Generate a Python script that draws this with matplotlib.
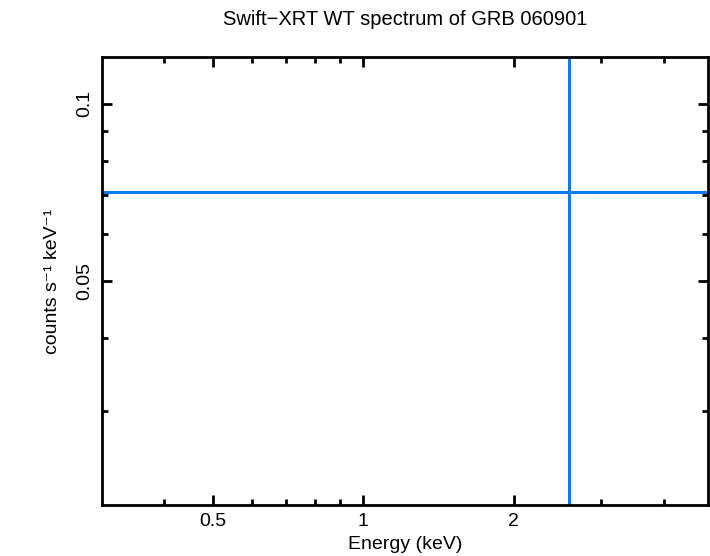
"""Swift-XRT WT spectrum of GRB 060901 (single wide bin)."""
import numpy as np
import matplotlib
matplotlib.use('Agg')
import matplotlib.pyplot as plt
from matplotlib import rcParams
from matplotlib.ticker import FixedLocator, NullFormatter, FixedFormatter

rcParams.update({
    'font.family': ['Liberation Sans', 'DejaVu Sans'], 'font.size': 14,
    'axes.linewidth': 2.0,
    'xtick.direction': 'in', 'ytick.direction': 'in',
    'xtick.top': True, 'ytick.right': True,
    'xtick.major.size': 7, 'ytick.major.size': 7,
    'xtick.minor.size': 4, 'ytick.minor.size': 4,
    'xtick.major.width': 2, 'ytick.major.width': 2,
    'xtick.minor.width': 2, 'ytick.minor.width': 2,
})
BLUE = '#0a7cf0'

# data: one spectral bin, errors run off the plot
energy = [2.58]
e_lo = [0.3]
e_hi = [10.0]
rate = [0.0708]
rate_lo = [0.01]
rate_hi = [0.2]

x_ticks = [0.5, 1, 2]
x_ticklabels = ['0.5', '1', '2']
x_minor = [0.4, 0.6, 0.7, 0.8, 0.9, 3, 4]
y_ticks = [0.05, 0.1]
y_ticklabels = ['0.05', '0.1']
y_minor = [0.03, 0.04, 0.06, 0.07, 0.08, 0.09]

fig = plt.figure(figsize=(7.1, 5.56), dpi=100)
ax = fig.add_axes([0.1437, 0.0917, 0.8533, 0.8058])

x = np.array(energy); y = np.array(rate)
xerr = [x - np.array(e_lo), np.array(e_hi) - x]
yerr = [y - np.array(rate_lo), np.array(rate_hi) - y]
ax.errorbar(x, y, xerr=xerr, yerr=yerr, fmt='none', ecolor=BLUE, elinewidth=2.2,
            capsize=0)

ax.set_xscale('log'); ax.set_yscale('log')
ax.set_xlim(0.3, 4.9)
ax.set_ylim(0.0208, 0.12)

ax.xaxis.set_major_locator(FixedLocator(x_ticks))
ax.xaxis.set_major_formatter(FixedFormatter(x_ticklabels))
ax.xaxis.set_minor_locator(FixedLocator(x_minor))
ax.xaxis.set_minor_formatter(NullFormatter())
ax.yaxis.set_major_locator(FixedLocator(y_ticks))
ax.yaxis.set_major_formatter(FixedFormatter(y_ticklabels))
ax.yaxis.set_minor_locator(FixedLocator(y_minor))
ax.yaxis.set_minor_formatter(NullFormatter())
for lab in ax.get_yticklabels():
    lab.set_rotation(90); lab.set_va('center')
ax.tick_params(axis='both', which='major', pad=6)

ax.set_xlabel('Energy (keV)', labelpad=4)
ax.set_ylabel('counts s\u207b\u00b9 keV\u207b\u00b9', labelpad=11)
ax.set_title('Swift\u2212XRT WT spectrum of GRB 060901', fontsize=14.5, pad=23)

fig.savefig('out.png', dpi=100)
